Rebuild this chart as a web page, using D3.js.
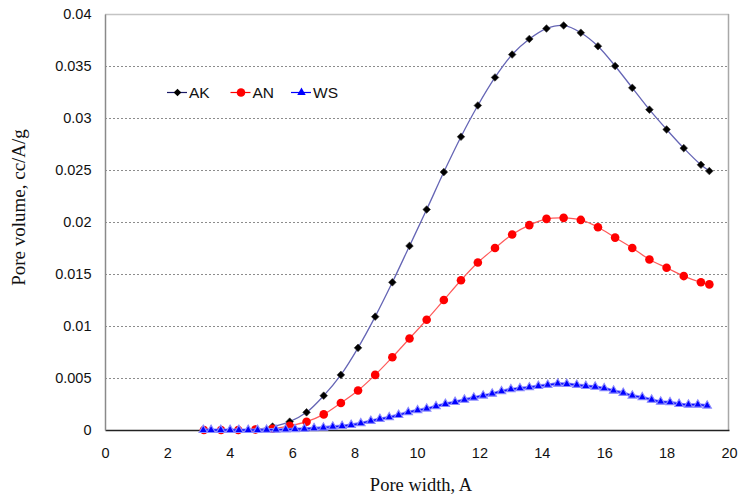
<!DOCTYPE html>
<html>
<head>
<meta charset="utf-8">
<script src="https://cdn.jsdelivr.net/npm/d3@7/dist/d3.min.js"></script>
<style>
  html, body { margin: 0; padding: 0; background: #ffffff; }
  svg { display: block; }
</style>
</head>
<body>
<svg id="chart" width="740" height="499"></svg>
<script>
// Pore size distributions (pore width in Angstrom, differential pore volume in cc/A/g)
const poreWidth = [3.17, 3.72, 4.27, 4.82, 5.37, 5.92, 6.46, 7.01, 7.56, 8.11, 8.66, 9.21, 9.76,
  10.31, 10.86, 11.41, 11.95, 12.50, 13.05, 13.60, 14.15, 14.70, 15.25, 15.80, 16.35, 16.90,
  17.45, 18.00, 18.55, 19.10, 19.37];

const akVolume = [0, 0, 0.00001, 0.00005, 0.00032, 0.0008, 0.0017, 0.0033, 0.0053, 0.0079, 0.0109,
  0.0142, 0.0177, 0.0212, 0.0248, 0.0282, 0.0312, 0.0339, 0.0361, 0.0376, 0.0386, 0.0389, 0.0382,
  0.0369, 0.0350, 0.0329, 0.0308, 0.0289, 0.0271, 0.0255, 0.0249];

const anVolume = [0, 0, 0, 0.00005, 0.00012, 0.0004, 0.0008, 0.0015, 0.0026, 0.0038, 0.0053, 0.0070,
  0.0088, 0.0106, 0.0125, 0.0144, 0.0161, 0.0175, 0.0188, 0.0197, 0.0203, 0.0204, 0.0202, 0.0195,
  0.0185, 0.0175, 0.0164, 0.0156, 0.0148, 0.0142, 0.0140];

const wsWidth = [3.15, 3.40, 3.71, 4.01, 4.29, 4.59, 4.89, 5.18, 5.48, 5.79, 6.09, 6.39, 6.70, 7.00,
  7.30, 7.60, 7.89, 8.20, 8.52, 8.81, 9.11, 9.41, 9.72, 10.02, 10.31, 10.61, 10.91, 11.22, 11.52,
  11.82, 12.12, 12.41, 12.71, 13.01, 13.30, 13.60, 13.89, 14.19, 14.51, 14.80, 15.12, 15.41, 15.71,
  16.00, 16.30, 16.61, 16.90, 17.22, 17.52, 17.81, 18.11, 18.40, 18.70, 19.00, 19.30];

const wsVolume = [0, 0, 0, 0, 0, 0, 0, 0.00002, 0.00003, 0.00005, 0.00008, 0.00012, 0.00017, 0.00022,
  0.00032, 0.00038, 0.00048, 0.00064, 0.00087, 0.00106, 0.00122, 0.00144, 0.0017, 0.00189, 0.00205,
  0.00228, 0.0025, 0.00269, 0.00291, 0.00311, 0.0033, 0.00349, 0.00372, 0.00391, 0.00401, 0.0041,
  0.00423, 0.00433, 0.00445, 0.00442, 0.00433, 0.00423, 0.00416, 0.00401, 0.00378, 0.00356, 0.0033,
  0.00314, 0.00291, 0.00272, 0.00266, 0.0025, 0.00243, 0.00243, 0.00234];

const xTicks = [0, 2, 4, 6, 8, 10, 12, 14, 16, 18, 20];
const yTicks = [0, 0.005, 0.01, 0.015, 0.02, 0.025, 0.03, 0.035, 0.04];
const seriesNames = ["AK", "AN", "WS"];
const xTitle = "Pore width, A";
const yTitle = "Pore volume, cc/A/g";

const svg = d3.select("#chart");
const plotLeft = 105, plotRight = 729, plotTop = 14, plotBottom = 430;

const x = d3.scaleLinear().domain([0, 20]).range([plotLeft, plotRight]);
const y = d3.scaleLinear().domain([0, 0.04]).range([plotBottom, plotTop]);

// horizontal dashed gridlines
svg.append("g").selectAll("line")
  .data(yTicks.filter(v => v > 0 && v < 0.04))
  .join("line")
  .attr("x1", plotLeft).attr("x2", plotRight)
  .attr("y1", d => Math.round(y(d)) + 0.5).attr("y2", d => Math.round(y(d)) + 0.5)
  .attr("stroke", "#8c8c8c").attr("stroke-width", 1).attr("stroke-dasharray", "2,2");

// plot frame
svg.append("line").attr("x1", plotLeft).attr("x2", plotRight).attr("y1", plotTop + 0.5).attr("y2", plotTop + 0.5)
  .attr("stroke", "#c4c4c4").attr("stroke-width", 1.5);
svg.append("line").attr("x1", plotRight - 0.5).attr("x2", plotRight - 0.5).attr("y1", plotTop).attr("y2", plotBottom)
  .attr("stroke", "#a8a8a8").attr("stroke-width", 1.5);

// axes
const xAxis = svg.append("g").attr("transform", `translate(0,${plotBottom})`)
  .call(d3.axisBottom(x).tickValues(xTicks).tickSize(0).tickPadding(18).tickFormat(d3.format("d")));
xAxis.select(".domain").attr("stroke", "#222").attr("stroke-width", 1.5);

const yAxis = svg.append("g").attr("transform", `translate(${plotLeft},0)`)
  .call(d3.axisLeft(y).tickValues(yTicks).tickSize(0).tickPadding(13.5).tickFormat(d => String(+d.toFixed(3))));
yAxis.select(".domain").attr("stroke", "#8a8a8a").attr("stroke-width", 1.5);

svg.selectAll(".tick text")
  .attr("font-family", "'Liberation Sans', Arial, sans-serif")
  .attr("font-size", "14.5px").attr("fill", "#111");

// axis titles
svg.append("text").attr("x", 421).attr("y", 491).attr("text-anchor", "middle")
  .attr("font-family", "'Liberation Serif', 'Times New Roman', serif").attr("font-size", "18.5px")
  .attr("fill", "#111").text(xTitle);
svg.append("text").attr("transform", "translate(25,207.5) rotate(-90)").attr("text-anchor", "middle")
  .attr("font-family", "'Liberation Serif', 'Times New Roman', serif").attr("font-size", "19px")
  .attr("fill", "#111").text(yTitle);

// series
const curve = d3.curveCatmullRom.alpha(0.5);
const line = d3.line().x(d => x(d[0])).y(d => y(d[1])).curve(curve);

const akData = d3.zip(poreWidth, akVolume);
const anData = d3.zip(poreWidth, anVolume);
const wsData = d3.zip(wsWidth, wsVolume);

const diamond = d3.symbol().type(d3.symbolSquare).size(29)();
const circle = d3.symbol().type(d3.symbolCircle).size(Math.PI * 4.3 * 4.3)();
const triangle = d3.symbol().type(d3.symbolTriangle).size(31)();

// AK
svg.append("path").datum(akData).attr("d", line)
  .attr("fill", "none").attr("stroke", "#6565b5").attr("stroke-width", 1.3);
svg.append("g").selectAll("path").data(akData).join("path")
  .attr("d", diamond)
  .attr("transform", d => `translate(${x(d[0])},${y(d[1])}) rotate(45)`)
  .attr("fill", "#000").attr("stroke", "#333").attr("stroke-width", 0.6);

// AN
svg.append("path").datum(anData).attr("d", line)
  .attr("fill", "none").attr("stroke", "#ff5a5a").attr("stroke-width", 1.2);
svg.append("g").selectAll("path").data(anData).join("path")
  .attr("d", circle)
  .attr("transform", d => `translate(${x(d[0])},${y(d[1])})`)
  .attr("fill", "#ff0000");

// WS
svg.append("path").datum(wsData).attr("d", line)
  .attr("fill", "none").attr("stroke", "#8f8fff").attr("stroke-width", 3.2);
svg.append("path").datum(wsData).attr("d", line)
  .attr("fill", "none").attr("stroke", "#1010ff").attr("stroke-width", 1.4);
svg.append("g").selectAll("path").data(wsData).join("path")
  .attr("d", triangle)
  .attr("transform", d => `translate(${x(d[0])},${y(d[1])})`)
  .attr("fill", "#0000ff").attr("stroke", "#8a8aff").attr("stroke-width", 1.1);

// legend
const legendItems = [
  { name: seriesNames[0], x0: 167, color: "#1a1a66", mark: diamond, rot: 45, fill: "#000" },
  { name: seriesNames[1], x0: 230.5, color: "#ff0000", mark: circle, rot: 0, fill: "#ff0000" },
  { name: seriesNames[2], x0: 291, color: "#0000ff", mark: triangle, rot: 0, fill: "#0000ff" }
];
const lg = svg.append("g").selectAll("g").data(legendItems).join("g")
  .attr("transform", d => `translate(${d.x0},92.5)`);
lg.append("line").attr("x1", 0).attr("x2", 20).attr("y1", 0).attr("y2", 0)
  .attr("stroke", d => d.color).attr("stroke-width", 1.2);
lg.append("path").attr("d", d => d.mark)
  .attr("transform", d => `translate(10.5,0) rotate(${d.rot})`)
  .attr("fill", d => d.fill);
lg.append("text").attr("x", 22).attr("y", 5.3)
  .attr("font-family", "'Liberation Sans', Arial, sans-serif").attr("font-size", "15.5px")
  .attr("fill", "#111").text(d => d.name);
</script>
</body>
</html>
